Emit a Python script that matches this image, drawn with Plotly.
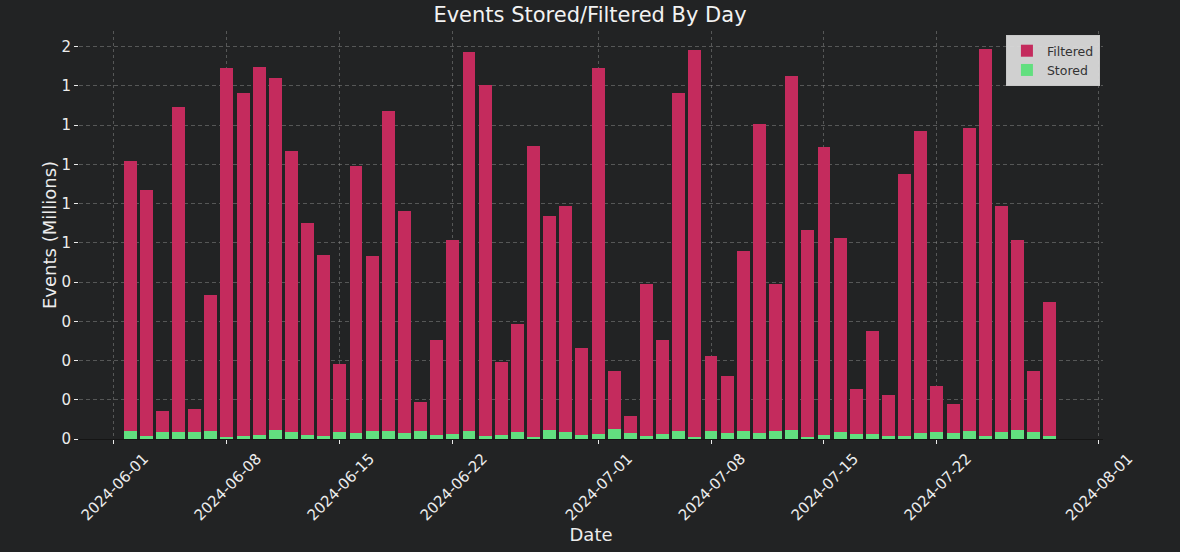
import plotly.graph_objects as go

# Days shown in the chart (2024-06-02 .. 2024-07-29).
dates = [
    "2024-06-02", "2024-06-03", "2024-06-04", "2024-06-05", "2024-06-06", "2024-06-07",
    "2024-06-08", "2024-06-09", "2024-06-10", "2024-06-11", "2024-06-12", "2024-06-13",
    "2024-06-14", "2024-06-15", "2024-06-16", "2024-06-17", "2024-06-18", "2024-06-19",
    "2024-06-20", "2024-06-21", "2024-06-22", "2024-06-23", "2024-06-24", "2024-06-25",
    "2024-06-26", "2024-06-27", "2024-06-28", "2024-06-29", "2024-06-30", "2024-07-01",
    "2024-07-02", "2024-07-03", "2024-07-04", "2024-07-05", "2024-07-06", "2024-07-07",
    "2024-07-08", "2024-07-09", "2024-07-10", "2024-07-11", "2024-07-12", "2024-07-13",
    "2024-07-14", "2024-07-15", "2024-07-16", "2024-07-17", "2024-07-18", "2024-07-19",
    "2024-07-20", "2024-07-21", "2024-07-22", "2024-07-23", "2024-07-24", "2024-07-25",
    "2024-07-26", "2024-07-27", "2024-07-28", "2024-07-29",
]

# Events per day, in millions.
stored = [
    0.041, 0.015, 0.036, 0.036, 0.036, 0.042, 0.012, 0.017, 0.020, 0.046,
    0.036, 0.020, 0.015, 0.036, 0.029, 0.041, 0.041, 0.029, 0.042, 0.020,
    0.024, 0.042, 0.017, 0.020, 0.037, 0.012, 0.046, 0.037, 0.020, 0.024,
    0.051, 0.029, 0.015, 0.024, 0.042, 0.012, 0.042, 0.032, 0.042, 0.029,
    0.042, 0.046, 0.009, 0.020, 0.034, 0.025, 0.024, 0.017, 0.015, 0.029,
    0.037, 0.029, 0.042, 0.017, 0.037, 0.046, 0.036, 0.017,
]
filtered = [
    1.375, 1.255, 0.108, 1.657, 0.115, 0.691, 1.881, 1.745, 1.875, 1.794,
    1.431, 1.082, 0.922, 0.346, 1.361, 0.889, 1.628, 1.132, 0.145, 0.484,
    0.989, 1.931, 1.786, 0.374, 0.550, 1.480, 1.091, 1.150, 0.445, 1.869,
    0.295, 0.088, 0.773, 0.480, 1.720, 1.969, 0.382, 0.290, 0.915, 1.575,
    0.749, 1.803, 1.057, 1.466, 0.990, 0.228, 0.528, 0.205, 1.335, 1.540,
    0.233, 0.149, 1.545, 1.969, 1.151, 0.967, 0.310, 0.679,
]

# Axis ticks.
x_ticks = ["2024-06-01", "2024-06-08", "2024-06-15", "2024-06-22", "2024-07-01",
           "2024-07-08", "2024-07-15", "2024-07-22", "2024-08-01"]
y_ticks = [0, 0.2, 0.4, 0.6, 0.8, 1.0, 1.2, 1.4, 1.6, 1.8, 2.0]
y_labels = ["0", "0", "0", "0", "0", "1", "1", "1", "1", "1", "2"]

bg = "#222324"
grid = "rgba(150,150,150,0.45)"
day_ms = 86400000

fig = go.Figure()
fig.add_trace(go.Bar(x=dates, y=stored, name="Stored", width=0.8 * day_ms,
                     marker=dict(color="#62df7f", line=dict(width=0))))
fig.add_trace(go.Bar(x=dates, y=filtered, name="Filtered", width=0.8 * day_ms,
                     marker=dict(color="#c42b5d", line=dict(width=0))))

fig.update_layout(
    barmode="stack",
    width=1180, height=552,
    paper_bgcolor=bg, plot_bgcolor=bg,
    font=dict(family="DejaVu Sans", color="#ececec", size=15),
    margin=dict(l=79, r=77, t=31, b=113),
    title=dict(text="Events Stored/Filtered By Day", x=0.5, xanchor="center",
               y=0.973, yanchor="middle", font=dict(size=21, color="#f2f2f2")),
    legend=dict(x=0.997, y=0.99, xanchor="right", yanchor="top",
                traceorder="reversed", bgcolor="rgba(218,218,218,0.95)",
                bordercolor="#c8c8c8", borderwidth=1, tracegroupgap=0,
                font=dict(size=12.5, color="#333333"), itemwidth=30),
    bargap=0,
)

fig.update_xaxes(
    type="date", range=["2024-05-29 20:00", "2024-08-01 07:00"],
    tickvals=x_ticks, tickformat="%Y-%m-%d", tickangle=-45, ticklabelshift=30,
    ticks="outside", ticklen=4, tickcolor="#ececec", automargin=False,
    showgrid=True, gridcolor=grid, griddash="3px,3px", gridwidth=1,
    showline=True, linecolor="#151515", zeroline=False,
    title=dict(text="Date", standoff=2),
)
fig.update_yaxes(
    range=[0, 2.079], tickvals=y_ticks, ticktext=y_labels,
    ticks="outside", ticklen=4, tickcolor="#ececec", automargin=False,
    showgrid=True, gridcolor=grid, griddash="4px,3px", gridwidth=1,
    showline=False, zeroline=False,
    title=dict(text="Events (Millions)", standoff=0),
)

# Drop the page margin so the dark figure fills the window.
fig.write_html("out.html", config={"displayModeBar": False}, post_script=(
    "document.body.style.margin='0';"
    "document.body.style.background='" + bg + "';"
))
